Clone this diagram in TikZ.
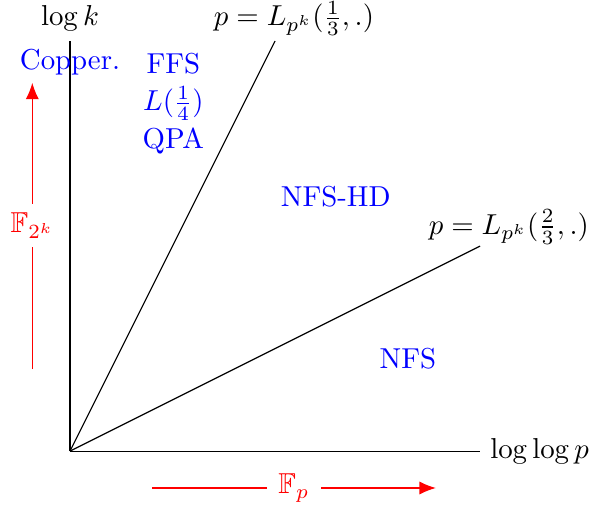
\documentclass[tikz,border=0pt]{standalone}
\usepackage{amsmath}
\usepackage{amssymb}
\usepackage{xcolor}
\usepackage{tikz}
\usetikzlibrary{arrows.meta,positioning,calc}

\begin{document}
\begin{tikzpicture}[
    axis/.style={draw=black},
    bound/.style={draw=black},
    algo/.style={text=blue, align=center},
    field/.style={->, >={Latex[length=2mm,width=1.6mm]}, draw=red},
    fieldlbl/.style={text=red, fill=white, inner xsep=4pt, inner ysep=3pt}
]
\useasboundingbox (-0.854,-0.683) rectangle (6.34,5.50);

% fields
\coordinate (f1a) at (-0.46,1);
\coordinate (f1b) at (-0.46,4.49);
\coordinate (f2a) at (1,-0.45);
\coordinate (f2b) at (4.46,-0.45);
\draw[field] (f1a) -- node[fieldlbl] (f2k) {$\mathbb{F}_{2^k}$} (f1b);
\draw[field] (f2a) -- node[fieldlbl] (fp) {$\mathbb{F}_p$} (f2b);

% axes
\coordinate (O) at (0,0);
\coordinate (ytop) at (0,5);
\coordinate (xend) at (5,0);
\draw[axis] (O) -- (ytop) node[above] (ylbl) {$\log k$};
\draw[axis] (O) -- (xend) node[right] (xlbl) {$\log\log p$};

% boundaries
\coordinate (b1) at (2.5,5);
\coordinate (b2) at (5,2.5);
\draw[bound] (O) -- (b1) node[above, xshift=2.3mm, yshift=-0.6mm] (b1lbl) {$p = L_{p^k}(\frac{1}{3},.)$};
\draw[bound] (O) -- (b2) node[above, xshift=3.5mm, yshift=-1mm] (b2lbl) {$p = L_{p^k}(\frac{2}{3},.)$};

% algorithms
\node[algo] (copper) at (0,4.74) {Copper.};
\node[algo] (ffs) at (1.26,4.73) {FFS};
\node[algo] (lquart) at (1.26,4.24) {$L(\frac{1}{4})$};
\node[algo] (qpa) at (1.26,3.78) {QPA};
\node[algo] (nfshd) at (3.24,3.10) {NFS-HD};
\node[algo] (nfs) at (4.12,1.13) {NFS};
\end{tikzpicture}
\end{document}
